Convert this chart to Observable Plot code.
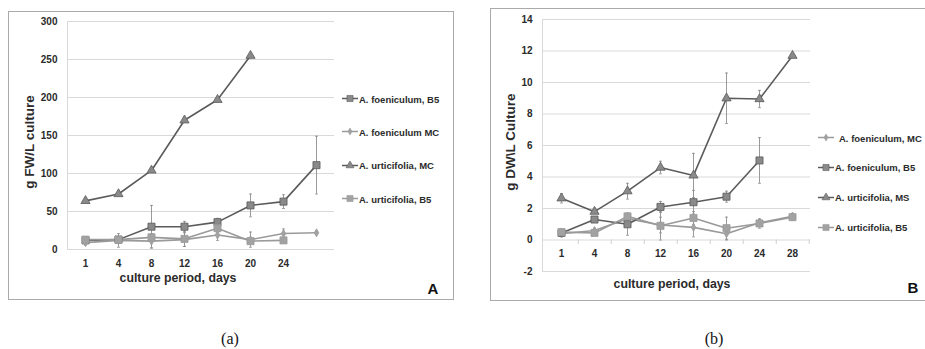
<!DOCTYPE html>
<html><head><meta charset="utf-8">
<script src="https://cdn.jsdelivr.net/npm/d3@7"></script>
<script src="https://cdn.jsdelivr.net/npm/@observablehq/plot@0.6"></script>
<style>
body{margin:0;background:#fff;}
#root{position:relative;width:925px;height:349px;overflow:hidden;font-family:"Liberation Sans",Arial,sans-serif;background:#fff;}
.panel{position:absolute;border:1px solid #aaaaaa;box-sizing:border-box;}
.abs{position:absolute;white-space:nowrap;}
.c{transform:translate(-50%,-50%);}
.bold{font-weight:bold;color:#2b2b2b;}
.leg{position:absolute;display:flex;align-items:center;font-weight:bold;font-size:9.5px;color:#2b2b2b;white-space:nowrap;transform:translateY(-50%);}
.leg svg{display:block;margin-right:1px;}
.cap{font-family:"Liberation Serif","Times New Roman",serif;font-size:16px;color:#111;}
svg.plot{position:absolute;top:0;}
</style>
</head><body>
<div id="root">
  <div class="panel" style="left:8px;top:11px;width:446px;height:289px;"></div>
  <div class="panel" style="left:490px;top:8px;width:440px;height:293px;"></div>
</div>
<script>
// ---------- data ----------
const days = [1, 4, 8, 12, 16, 20, 24, 28];
const tickLabelsA = ["1", "4", "8", "12", "16", "20", "24", ""];
const tickLabelsB = ["1", "4", "8", "12", "16", "20", "24", "28"];
const yTicksA = [0, 50, 100, 150, 200, 250, 300];
const yTicksB = [-2, 0, 2, 4, 6, 8, 10, 12, 14];

// Panel A: g FW / L culture
const namesA = ["A. foeniculum, B5", "A. foeniculum MC", "A. urticifolia, MC", "A. urticifolia, B5"];
const fwFoenB5 = [12, 13, 30, 30, 36, 58, 63, 111];
const fwFoenB5Err = [3, 3, 28, 7, 5, 15, 9, 38];
const fwFoenMC = [9, 12, 11, 13, 19, 13, 21, 22];
const fwFoenMCErr = [3, 9, 9, 9, 7, 10, 6, 2];
const fwUrtMC = [64, 73, 104, 170, 197, 255, null, null];
const fwUrtMCErr = [2, 2, 2, 2, 2, 2, null, null];
const fwUrtB5 = [13, 13, 16, 14, 28, 11, 12, null];
const fwUrtB5Err = [2, 3, 5, 10, 5, 3, 2, null];

// Panel B: g DW \ L culture
const namesB = ["A. foeniculum, MC", "A. foeniculum, B5", "A. urticifolia, MS", "A. urticifolia, B5"];
const dwFoenMC = [0.4, 0.6, 1.35, 0.95, 0.8, 0.4, 1.1, 1.5];
const dwFoenMCErr = [0.2, 0.15, 0.3, 0.5, 0.6, 0.4, 0.2, 0.2];
const dwFoenB5 = [0.45, 1.3, 1.0, 2.1, 2.4, 2.75, 5.05, null];
const dwFoenB5Err = [0.2, 0.15, 0.7, 0.35, 0.75, 0.35, 1.45, null];
const dwUrtMS = [2.65, 1.8, 3.1, 4.6, 4.1, 9.0, 8.95, 11.7];
const dwUrtMSErr = [0.3, 0.1, 0.5, 0.4, 1.4, 1.6, 0.55, 0.1];
const dwUrtB5 = [0.5, 0.45, 1.5, 0.9, 1.4, 0.75, 1.05, 1.45];
const dwUrtB5Err = [0.2, 0.1, 0.2, 0.9, 0.4, 0.7, 0.3, 0.2];

// ---------- styles ----------
const DARK = "#5b5b5b", LIGHT = "#9a9a9a";
const DARKFILL = "#8a8a8a", LIGHTFILL = "#a2a2a2";
const stylesA = [
  {stroke: DARK, fill: DARKFILL, symbol: "square", r: 4},
  {stroke: LIGHT, fill: LIGHTFILL, symbol: "diamond", r: 2.4},
  {stroke: DARK, fill: DARKFILL, symbol: "triangle", r: 3.4},
  {stroke: LIGHT, fill: LIGHTFILL, symbol: "square", r: 4}
];
const stylesB = [
  {stroke: LIGHT, fill: LIGHTFILL, symbol: "diamond", r: 2.4},
  {stroke: DARK, fill: DARKFILL, symbol: "square", r: 4},
  {stroke: DARK, fill: DARKFILL, symbol: "triangle", r: 3.4},
  {stroke: LIGHT, fill: LIGHTFILL, symbol: "square", r: 4}
];
const seriesA = [[fwFoenB5, fwFoenB5Err], [fwFoenMC, fwFoenMCErr], [fwUrtMC, fwUrtMCErr], [fwUrtB5, fwUrtB5Err]];
const seriesB = [[dwFoenMC, dwFoenMCErr], [dwFoenB5, dwFoenB5Err], [dwUrtMS, dwUrtMSErr], [dwUrtB5, dwUrtB5Err]];

const capSymbol = {draw(ctx, size) { const w = Math.sqrt(size); ctx.moveTo(-w / 2, 0); ctx.lineTo(w / 2, 0); }};
const FONT = '"Liberation Sans", Arial, sans-serif';

function rowsOf(vals, errs) {
  return days.map((d, i) => ({day: d, value: vals[i], err: errs[i]})).filter(r => r.value != null);
}

function makeChart({series, styles, yDomain, yTicks, tickLabels, width, height, ml, mr, mt, mb, minorTicks}) {
  const marks = [
    Plot.ruleY(yTicks, {stroke: "#d9d9d9", strokeWidth: 1}),
    Plot.frame({anchor: "left", stroke: "#d9d9d9"})
  ];
  const half = (width - ml - mr) / days.length / 2;
  if (minorTicks) {
    marks.push(Plot.ruleX(days, {x: d => d, y1: 0, y2: -0.28, dx: half, stroke: "#cfcfcf"}));
  }
  const order = [...series.keys()];
  // error bars first
  for (const k of order) {
    const rows = rowsOf(series[k][0], series[k][1]);
    const bars = rows.filter(r => r.err > 0);
    marks.push(Plot.ruleX(bars, {x: "day", y1: r => r.value - r.err, y2: r => r.value + r.err, stroke: "#8f8f8f", strokeWidth: 0.9}));
    marks.push(Plot.dot(bars, {x: "day", y: r => r.value + r.err, symbol: capSymbol, r: 1.6, stroke: "#8f8f8f", fill: "none", strokeWidth: 0.9}));
    marks.push(Plot.dot(bars, {x: "day", y: r => r.value - r.err, symbol: capSymbol, r: 1.6, stroke: "#8f8f8f", fill: "none", strokeWidth: 0.9}));
  }
  for (const k of order) {
    const rows = rowsOf(series[k][0], series[k][1]);
    const s = styles[k];
    marks.push(Plot.line(rows, {x: "day", y: "value", stroke: s.stroke, strokeWidth: 1.6}));
  }
  for (const k of order) {
    const rows = rowsOf(series[k][0], series[k][1]);
    const s = styles[k];
    marks.push(Plot.dot(rows, {x: "day", y: "value", symbol: s.symbol, r: s.r, fill: s.fill, stroke: s.stroke, strokeWidth: 0.8}));
  }
  marks.push(Plot.text(days, {x: d => d, y: () => 0, text: (d, i) => tickLabels[i], dy: 14, fill: "#2b2b2b", fontWeight: "bold", fontSize: 10}));
  return Plot.plot({
    width, height, marginLeft: ml, marginRight: mr, marginTop: mt, marginBottom: mb,
    x: {type: "point", domain: days, padding: 0.5, axis: null},
    y: {domain: yDomain, ticks: yTicks, tickSize: 0, tickPadding: 10, label: null, tickFormat: d => String(d)},
    style: {fontFamily: FONT, fontSize: "10px", fontWeight: "bold", color: "#2b2b2b", background: "transparent", overflow: "visible"},
    marks
  });
}

const root = document.getElementById("root");

const chartA = makeChart({series: seriesA, styles: stylesA, yDomain: [0, 300], yTicks: yTicksA, tickLabels: tickLabelsA,
  width: 340, height: 300, ml: 67, mr: 6, mt: 21, mb: 51, minorTicks: false});
chartA.classList.add("plot");
chartA.style.left = "0px";
root.appendChild(chartA);

const chartB = makeChart({series: seriesB, styles: stylesB, yDomain: [-2, 14], yTicks: yTicksB, tickLabels: tickLabelsB,
  width: 326, height: 300, ml: 52, mr: 6, mt: 19, mb: 29, minorTicks: true});
chartB.classList.add("plot");
chartB.style.left = "490px";
root.appendChild(chartB);

function addText(txt, x, y, cls, extra) {
  const d = document.createElement("div");
  d.className = "abs " + cls;
  d.textContent = txt;
  d.style.left = x + "px"; d.style.top = y + "px";
  if (extra) Object.assign(d.style, extra);
  root.appendChild(d);
  return d;
}
// axis titles
addText("culture period, days", 178, 278, "c bold", {fontSize: "12.3px"});
addText("g FW/L culture", 29, 142, "bold", {fontSize: "13.5px", transform: "translate(-50%,-50%) rotate(-90deg)"});
addText("culture period, days", 672, 284, "c bold", {fontSize: "12.3px"});
addText("g DW\\L Culture", 510, 142, "bold", {fontSize: "13.5px", transform: "translate(-50%,-50%) rotate(-90deg)"});
// panel letters
addText("A", 433, 288, "c bold", {fontSize: "15px", color: "#111"});
addText("B", 913, 287, "c bold", {fontSize: "15px", color: "#111"});
// captions
addText("(a)", 230, 339, "c cap");
addText("(b)", 714, 339, "c cap");

// legends
function addLegend(names, styles, x, ys, gaps) {
  names.forEach((name, i) => {
    const s = styles[i];
    const row = document.createElement("div");
    row.className = "leg";
    row.style.left = x + "px"; row.style.top = ys[i] + "px";
    const svg = d3.create("svg").attr("width", 16).attr("height", 10);
    svg.append("line").attr("x1", 0).attr("x2", 16).attr("y1", 5).attr("y2", 5).attr("stroke", s.stroke).attr("stroke-width", 1.6);
    const sym = {square: d3.symbolSquare, diamond: d3.symbolDiamond, triangle: d3.symbolTriangle}[s.symbol];
    svg.append("path").attr("transform", "translate(8,5)").attr("d", d3.symbol(sym, Math.PI * s.r * s.r * 0.75)())
      .attr("fill", s.fill).attr("stroke", s.stroke).attr("stroke-width", 0.6);
    row.appendChild(svg.node());
    const t = document.createElement("span");
    t.textContent = name;
    if (gaps && gaps[i]) t.style.marginLeft = gaps[i] + "px";
    row.appendChild(t);
    root.appendChild(row);
  });
}
addLegend(namesA, stylesA, 342, [98.7, 131.7, 165, 198.7]);
addLegend(namesB, stylesB, 818, [137.7, 167.3, 197.3, 227.3], [4, 0, 0, 0]);
</script>
</body></html>
